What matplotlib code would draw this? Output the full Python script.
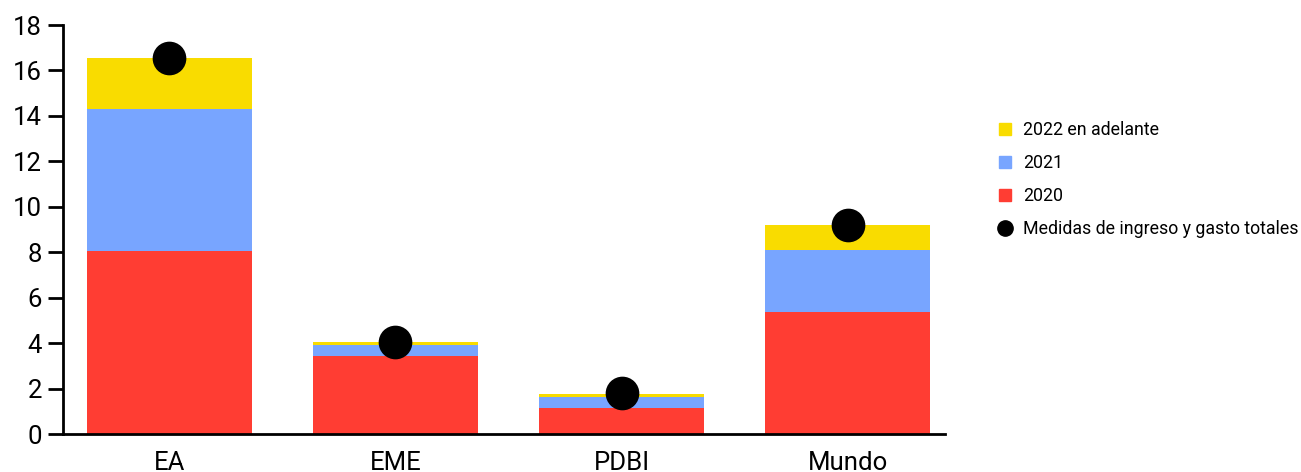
import numpy as np
import matplotlib.pyplot as plt
from matplotlib.lines import Line2D

plt.rcParams['font.family'] = ['Roboto', 'DejaVu Sans']

regiones = ["EA", "EME", "PDBI", "Mundo"]
v2020 = [8.06, 3.45, 1.16, 5.39]
v2021 = [6.24, 0.47, 0.48, 2.71]
v2022 = [2.26, 0.13, 0.14, 1.10]
totales = [16.56, 4.07, 1.79, 9.20]

col_2020 = "#ff3d33"
col_2021 = "#78a5ff"
col_2022 = "#f9dc00"

fig = plt.figure(figsize=(13.01, 4.72), dpi=100)
ax = fig.add_axes([0.0484, 0.0805, 0.678, 0.8665])

x = np.arange(len(regiones))
w = 0.73
b1 = np.array(v2020)
b2 = b1 + np.array(v2021)
ax.bar(x, v2020, w, color=col_2020)
ax.bar(x, v2021, w, bottom=b1, color=col_2021)
ax.bar(x, v2022, w, bottom=b2, color=col_2022)
ax.scatter(x, totales, s=540, color="black", zorder=5)

ax.set_xlim(-0.47, 3.43)
ax.set_ylim(0, 18)
ax.set_yticks(range(0, 19, 2))
ax.set_xticks(x)
ax.set_xticklabels(regiones)
ax.tick_params(axis='y', labelsize=18.5, length=11, width=2, pad=4)
ax.tick_params(axis='x', labelsize=18.5, length=0, pad=12)
for s in ["top", "right"]:
    ax.spines[s].set_visible(False)
for s in ["left", "bottom"]:
    ax.spines[s].set_linewidth(2)

handles = [
    Line2D([], [], marker='s', linestyle='none', color=col_2022, markersize=9),
    Line2D([], [], marker='s', linestyle='none', color=col_2021, markersize=9),
    Line2D([], [], marker='s', linestyle='none', color=col_2020, markersize=9),
    Line2D([], [], marker='o', linestyle='none', color="black", markersize=11),
]
labels = ["2022 en adelante", "2021", "2020", "Medidas de ingreso y gasto totales"]
fig.legend(handles, labels, loc='center left', bbox_to_anchor=(0.755, 0.619),
           frameon=False, fontsize=12.8, handlelength=0.8, handletextpad=0.6,
           labelspacing=0.85)

fig.savefig("out.png", dpi=100)
